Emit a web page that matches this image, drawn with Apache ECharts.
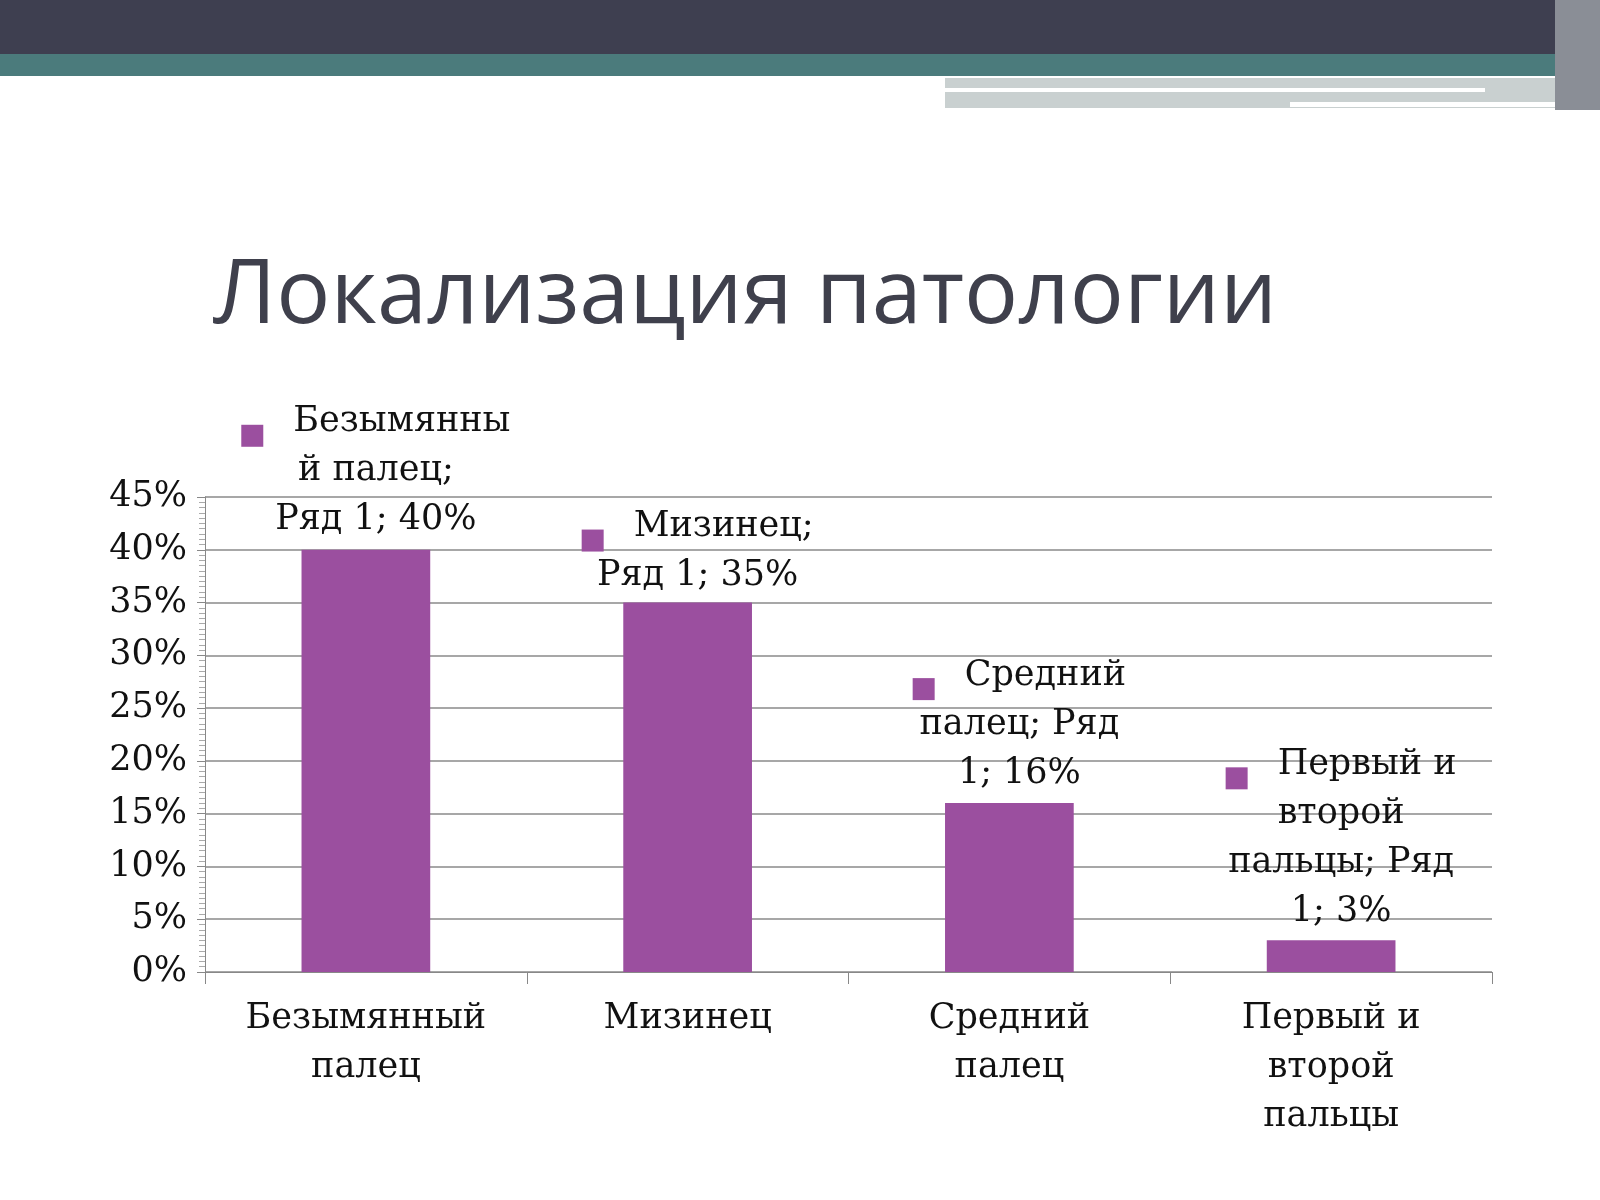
<!DOCTYPE html>
<html><head><meta charset="utf-8">
<script src="https://cdn.jsdelivr.net/npm/echarts@6/dist/echarts.min.js"></script>
<style>html,body{margin:0;padding:0;background:#fff}#c{width:1600px;height:1200px}</style>
</head><body><div id="c"></div>
<script>
const categories = ['Безымянный\nпалец', 'Мизинец', 'Средний\nпалец', 'Первый и\nвторой\nпальцы'];
const values = [40, 35, 16, 3];
const labelTexts = ['Безымянны\nй палец;\nРяд 1; 40%', 'Мизинец;\nРяд 1; 35%', 'Средний\nпалец; Ряд\n1; 16%', 'Первый и\nвторой\nпальцы; Ряд\n1; 3%'];
const labelOffsets = [[10, 5], [10, 8], [10, 5], [10, 6]];
const chart = echarts.init(document.getElementById('c'));
const serif = 'DejaVu Serif';
chart.setOption({
  backgroundColor: '#fff',
  graphic: [
    {type:'rect', shape:{x:0,y:0,width:1600,height:54}, style:{fill:'#3e3f50'}},
    {type:'rect', shape:{x:0,y:54,width:1600,height:22}, style:{fill:'#4b7b7c'}},
    {type:'rect', shape:{x:945,y:78,width:625,height:30}, style:{fill:'#c9d0d0'}},
    {type:'rect', shape:{x:945,y:88,width:540,height:4}, style:{fill:'#ffffff'}},
    {type:'rect', shape:{x:1290,y:102,width:280,height:5}, style:{fill:'#ffffff'}},
    {type:'rect', shape:{x:1555,y:0,width:45,height:110}, style:{fill:'#8a8e96'}},
    {type:'text', left:213, top:252, style:{text:'Локализация патологии', font:'90px "Open Sans", "DejaVu Sans"', fill:'#3f404c'}}
  ],
  grid: {left:205, right:108, top:497, bottom:228},
  xAxis: {
    type:'category', data:categories,
    axisLine:{lineStyle:{color:'#888'}},
    axisTick:{show:true, length:12, lineStyle:{color:'#888'}},
    axisLabel:{fontFamily:serif, fontSize:35, color:'#111', lineHeight:49, margin:22}
  },
  yAxis: {
    type:'value', min:0, max:45, interval:5,
    axisLine:{show:true, lineStyle:{color:'#888'}},
    axisTick:{show:true, length:8, lineStyle:{color:'#888'}},
    minorTick:{show:true, splitNumber:10, length:6, lineStyle:{color:'#aaa'}},
    splitLine:{lineStyle:{color:'#8a8a8a', width:1.5}},
    axisLabel:{formatter:'{value}%', fontFamily:serif, fontSize:35, color:'#111', margin:18}
  },
  series: [{
    type:'bar', data: values.map((v,i)=>({value:v, label:{offset:labelOffsets[i]}})),
    barWidth:'40%', itemStyle:{color:'#9b4f9f'},
    label:{show:true, position:'top', distance:10,
      formatter: p => '{sq|}{g|}' + labelTexts[p.dataIndex].split('\n').map(s=>'{t|'+s+'}').join('\n'),
      rich:{sq:{width:22,height:22,backgroundColor:'#9b4f9f', verticalAlign:'bottom'}, g:{width:30}, t:{fontFamily:serif, fontSize:35, color:'#111', lineHeight:49, align:'center'}},
      align:'center'}
  }]
});
</script></body></html>
